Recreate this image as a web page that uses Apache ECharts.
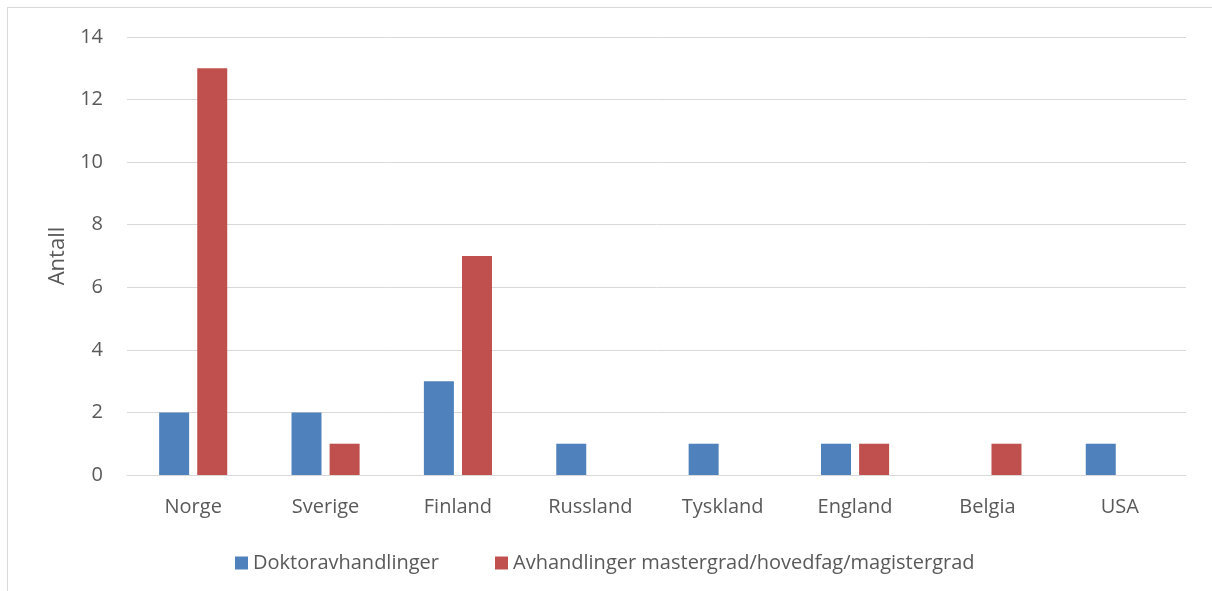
<!DOCTYPE html>
<html>
<head>
<meta charset="UTF-8">
<title>Avhandlinger per land</title>
<script src="https://cdn.jsdelivr.net/npm/echarts@6/dist/echarts.min.js"></script>
<style>
  body { margin: 0; background: #fff; }
  #frame { position: absolute; left: 7px; top: 7px; width: 1220px; height: 600px; border: 1px solid #d9d9d9; box-sizing: border-box; }
  #chartmain { position: absolute; left: 0; top: 0; width: 1212px; height: 591px; }
</style>
</head>
<body>
<div id="frame"></div>
<div id="chartmain"></div>
<script>
var land = ["Norge", "Sverige", "Finland", "Russland", "Tyskland", "England", "Belgia", "USA"];
var doktor = [2, 2, 3, 1, 1, 1, 0, 1];
var master = [13, 1, 7, 0, 0, 1, 1, 0];
var yTicks = [0, 2, 4, 6, 8, 10, 12, 14];

var fontName = "Open Sans";
var txt = "#595959";

var mychart = echarts.init(document.getElementById("chartmain"));
mychart.setOption({
    animation: false,
    textStyle: { fontFamily: fontName },
    grid: { left: 127, right: 26, top: 37, bottom: 116 },
    legend: {
        left: 230,
        top: 548,
        itemWidth: 13,
        itemHeight: 13,
        itemGap: 56,
        icon: "rect",
        textStyle: { fontSize: 20, color: txt, fontFamily: fontName },
        data: ["Doktoravhandlinger", "Avhandlinger mastergrad/hovedfag/magistergrad"]
    },
    xAxis: {
        type: "category",
        data: land,
        axisLine: { lineStyle: { color: "#d9d9d9", width: 1 } },
        axisTick: { show: false },
        axisLabel: { color: txt, fontSize: 20, margin: 22 }
    },
    yAxis: {
        type: "value",
        min: yTicks[0],
        max: yTicks[yTicks.length - 1],
        interval: 2,
        name: "Antall",
        nameLocation: "middle",
        nameGap: 58,
        nameTextStyle: { color: txt, fontSize: 22 },
        axisLine: { show: false },
        axisTick: { show: false },
        axisLabel: { color: txt, fontSize: 20, margin: 24 },
        splitLine: { lineStyle: { color: "#d9d9d9", width: 1 } }
    },
    series: [
        {
            name: "Doktoravhandlinger",
            type: "bar",
            data: doktor,
            barWidth: 30,
            barGap: "27%",
            itemStyle: { color: "#4f81bd" }
        },
        {
            name: "Avhandlinger mastergrad/hovedfag/magistergrad",
            type: "bar",
            data: master,
            barWidth: 30,
            itemStyle: { color: "#c0504d" }
        }
    ]
});
</script>
</body>
</html>
